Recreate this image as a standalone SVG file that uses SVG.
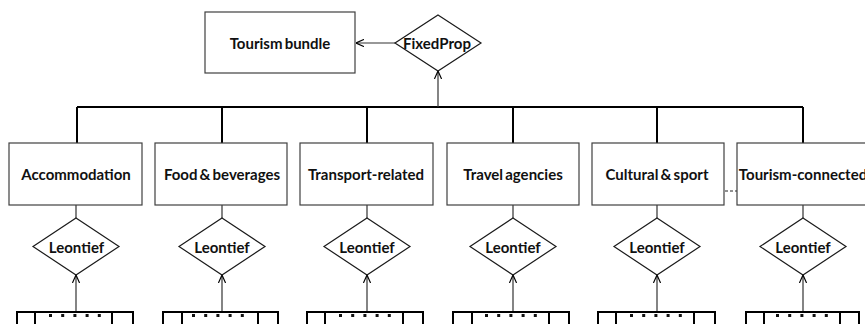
<svg xmlns="http://www.w3.org/2000/svg" width="865" height="324" viewBox="0 0 865 324">
<style>
.box{fill:#fff;stroke:#404040;stroke-width:1.2}
.dia{fill:#fff;stroke:#1a1a1a;stroke-width:1.2}
.bbox{fill:none;stroke:#000;stroke-width:2}
.lbl{font-family:Lato,"Liberation Sans",sans-serif;font-weight:bold;font-size:15px;fill:#111;text-anchor:middle;dominant-baseline:central;word-spacing:-1.5px}
.bus{stroke:#000;stroke-width:2;fill:none}
.thin{stroke:#333;stroke-width:1.2;fill:none}
.dot{fill:#111}
</style>
<defs>
<marker id="ah" viewBox="0 0 10 10" refX="10" refY="5" markerWidth="8" markerHeight="8" markerUnits="userSpaceOnUse" orient="auto">
<path d="M0,0.5 L10,5 L0,9.5" fill="none" stroke="#000" stroke-width="1.5"/>
</marker>
<g id="dots"><rect x="0" y="0" width="3" height="3"/><rect x="12.2" y="0" width="3" height="3"/><rect x="24.4" y="0" width="3" height="3"/><rect x="36.6" y="0" width="3" height="3"/><rect x="48.8" y="0" width="3" height="3"/></g>
</defs>
<g id="connectors">
<path class="bus" d="M77,107 H803 M77,107 V143 M222,107 V143 M367,107 V143 M513,107 V143 M657,107 V143 M803,107 V143"/>
<line class="thin" x1="438" y1="107" x2="438" y2="71" marker-end="url(#ah)"/>
<line class="thin" x1="395" y1="43" x2="356" y2="43" marker-end="url(#ah)"/>
<path class="thin" d="M76,205 V218 M222,205 V218 M367,205 V218 M513,205 V218 M657,205 V218 M803,205 V218"/>
<line class="thin" x1="76" y1="311" x2="76" y2="275" marker-end="url(#ah)"/>
<line class="thin" x1="222" y1="311" x2="222" y2="275" marker-end="url(#ah)"/>
<line class="thin" x1="367" y1="311" x2="367" y2="275" marker-end="url(#ah)"/>
<line class="thin" x1="513" y1="311" x2="513" y2="275" marker-end="url(#ah)"/>
<line class="thin" x1="657" y1="311" x2="657" y2="275" marker-end="url(#ah)"/>
<line class="thin" x1="803" y1="311" x2="803" y2="275" marker-end="url(#ah)"/>
<line x1="715" y1="191" x2="744" y2="191" stroke="#222" stroke-width="1" stroke-dasharray="3,2"/>
</g>
<g id="tourism-bundle"><rect class="box" x="205" y="12" width="150" height="61"/><text class="lbl" x="280" y="43">Tourism bundle</text></g>
<g id="fixedprop"><polygon class="dia" points="438,15 481,43 438,71 395,43"/><text class="lbl" x="437" y="43">FixedProp</text></g>
<g id="accommodation"><rect class="box" x="9" y="143" width="133" height="62"/><text class="lbl" x="76" y="174">Accommodation</text></g>
<g id="food"><rect class="box" x="155" y="143" width="132" height="62"/><text class="lbl" x="222" y="174">Food &amp; beverages</text></g>
<g id="transport"><rect class="box" x="300" y="143" width="133" height="62"/><text class="lbl" x="366" y="174">Transport-related</text></g>
<g id="travel"><rect class="box" x="447" y="143" width="132" height="62"/><text class="lbl" x="513" y="174">Travel agencies</text></g>
<g id="cultural"><rect class="box" x="592" y="143" width="132" height="62"/><text class="lbl" x="657" y="174">Cultural &amp; sport</text></g>
<g id="tourism-connected"><rect class="box" x="737" y="143" width="134" height="62"/><text class="lbl" x="803" y="174">Tourism-connected</text></g>
<g id="leontief-1"><polygon class="dia" points="76,218 119,246.5 76,275 33,246.5"/><text class="lbl" x="76.5" y="247">Leontief</text></g>
<g id="leontief-2"><polygon class="dia" points="222,218 265,246.5 222,275 179,246.5"/><text class="lbl" x="222" y="247">Leontief</text></g>
<g id="leontief-3"><polygon class="dia" points="367,218 410,246.5 367,275 324,246.5"/><text class="lbl" x="367" y="247">Leontief</text></g>
<g id="leontief-4"><polygon class="dia" points="513,218 556,246.5 513,275 470,246.5"/><text class="lbl" x="513" y="247">Leontief</text></g>
<g id="leontief-5"><polygon class="dia" points="657,218 700,246.5 657,275 614,246.5"/><text class="lbl" x="657" y="247">Leontief</text></g>
<g id="leontief-6"><polygon class="dia" points="803,218 846,246.5 803,275 760,246.5"/><text class="lbl" x="803" y="247">Leontief</text></g>
<g id="inputs-1"><rect class="bbox" x="17" y="312" width="116" height="30"/><path class="bbox" d="M35,312 V330 M112,312 V330"/><use href="#dots" class="dot" x="49" y="314"/></g>
<g id="inputs-2"><rect class="bbox" x="163" y="312" width="115" height="30"/><path class="bbox" d="M182,312 V330 M258,312 V330"/><use href="#dots" class="dot" x="192" y="314"/></g>
<g id="inputs-3"><rect class="bbox" x="307" y="312" width="116" height="30"/><path class="bbox" d="M325,312 V330 M403,312 V330"/><use href="#dots" class="dot" x="339" y="314"/></g>
<g id="inputs-4"><rect class="bbox" x="453" y="312" width="116" height="30"/><path class="bbox" d="M472,312 V330 M549,312 V330"/><use href="#dots" class="dot" x="485" y="314"/></g>
<g id="inputs-5"><rect class="bbox" x="598" y="312" width="117" height="30"/><path class="bbox" d="M616,312 V330 M694,312 V330"/><use href="#dots" class="dot" x="630" y="314"/></g>
<g id="inputs-6"><rect class="bbox" x="746" y="312" width="113" height="30"/><path class="bbox" d="M764,312 V330 M840,312 V330"/><use href="#dots" class="dot" x="776" y="314"/></g>
</svg>
